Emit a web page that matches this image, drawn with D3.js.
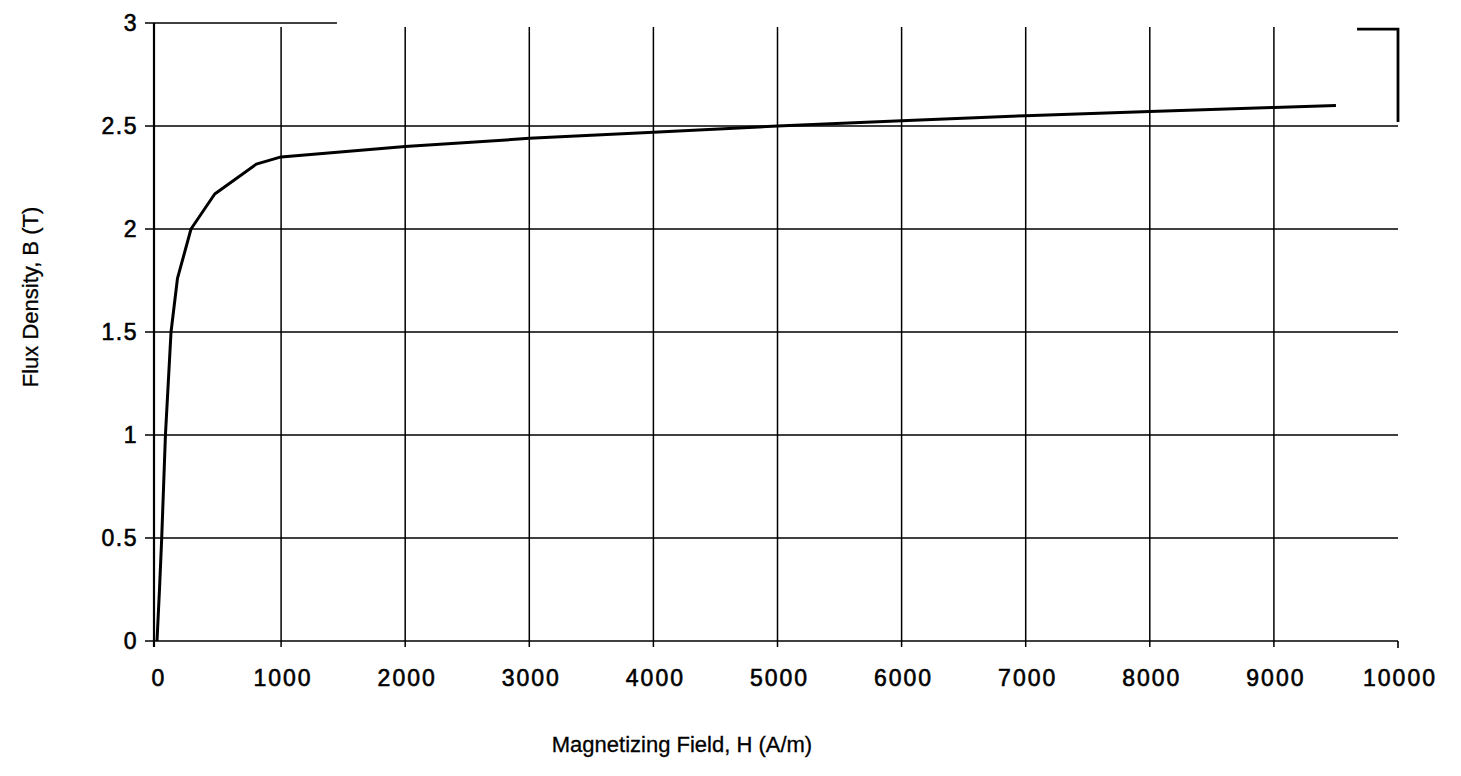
<!DOCTYPE html>
<html>
<head>
<meta charset="utf-8">
<script src="https://cdn.jsdelivr.net/npm/d3@7"></script>
<style>
  body { margin: 0; background: #fff; }
  text { font-family: "Liberation Sans", Arial, sans-serif; fill: #000; }
  .tick-label { stroke: #000; stroke-width: 0.6px; }
  .title { stroke: #000; stroke-width: 0.3px; }
</style>
</head>
<body>
<div id="chart"></div>
<script>
// B-H curve
const fieldH = [0, 20, 38, 68, 113, 165, 274, 465, 800, 1000, 2000, 3000, 4000, 5000, 6000, 7000, 8000, 9000, 9500];
const fluxB = [0, 0.25, 0.5, 1.0, 1.5, 1.76, 2.0, 2.17, 2.315, 2.35, 2.40, 2.44, 2.47, 2.50, 2.525, 2.55, 2.57, 2.59, 2.60];

const xTicks = [0, 1000, 2000, 3000, 4000, 5000, 6000, 7000, 8000, 9000, 10000];
const yTicks = [0, 0.5, 1, 1.5, 2, 2.5, 3];

const width = 1461;
const height = 776;
const margin = { top: 23, right: 63, bottom: 135, left: 157 };

const svg = d3.select('#chart').append('svg')
  .attr('width', width)
  .attr('height', height);

const x = d3.scaleLinear().domain([0, 10000]).range([margin.left, width - margin.right]);
const y = d3.scaleLinear().domain([0, 3]).range([height - margin.bottom, margin.top]);

// horizontal grid lines (top one only drawn part way, as in the scan)
svg.append('g').selectAll('line')
  .data(yTicks.filter(d => d < 3))
  .enter().append('line')
  .attr('x1', x(0) - 12)
  .attr('x2', x(10000))
  .attr('y1', d => y(d))
  .attr('y2', d => y(d))
  .attr('stroke', '#000')
  .attr('stroke-width', 1.6);

svg.append('line')
  .attr('x1', x(0) - 12).attr('x2', x(1450))
  .attr('y1', y(3)).attr('y2', y(3))
  .attr('stroke', '#000').attr('stroke-width', 1.6);

// vertical grid lines
svg.append('g').selectAll('line')
  .data(xTicks.filter(d => d > 0 && d < 10000))
  .enter().append('line')
  .attr('x1', d => x(d))
  .attr('x2', d => x(d))
  .attr('y1', y(2.98))
  .attr('y2', y(0) + 6)
  .attr('stroke', '#000')
  .attr('stroke-width', 1.5);

// y axis line
svg.append('line')
  .attr('x1', x(0) - 3).attr('x2', x(0) - 3)
  .attr('y1', y(3)).attr('y2', y(0) + 6)
  .attr('stroke', '#000').attr('stroke-width', 2.2);

// tick at the right end
svg.append('line')
  .attr('x1', x(10000)).attr('x2', x(10000))
  .attr('y1', y(0)).attr('y2', y(0) + 7)
  .attr('stroke', '#000').attr('stroke-width', 1.6);

// bracket in the top right corner
svg.append('path')
  .attr('d', `M${x(9670)},${y(2.97)} H${x(10000)} V${y(2.52)}`)
  .attr('fill', 'none')
  .attr('stroke', '#000')
  .attr('stroke-width', 2.8);

// tick labels
svg.append('g').selectAll('text')
  .data(yTicks)
  .enter().append('text')
  .attr('class', 'tick-label')
  .attr('x', x(0) - 19)
  .attr('y', d => y(d))
  .attr('dy', '0.36em')
  .attr('text-anchor', 'end')
  .attr('font-size', '23px')
  .attr('letter-spacing', '1.5px')
  .text(d => d);

svg.append('g').selectAll('text')
  .data(xTicks)
  .enter().append('text')
  .attr('class', 'tick-label')
  .attr('x', d => x(d) + 2)
  .attr('y', y(0) + 45)
  .attr('text-anchor', 'middle')
  .attr('font-size', '23px')
  .attr('letter-spacing', '2px')
  .text(d => d);

// axis titles
svg.append('text')
  .attr('class', 'title')
  .attr('x', 682)
  .attr('y', 752)
  .attr('text-anchor', 'middle')
  .attr('font-size', '22px')
  .text('Magnetizing Field, H (A/m)');

svg.append('text')
  .attr('class', 'title')
  .attr('transform', 'translate(38,297) rotate(-90)')
  .attr('text-anchor', 'middle')
  .attr('font-size', '22px')
  .text('Flux Density, B (T)');

// the curve
const line = d3.line()
  .x((d, i) => x(fieldH[i]))
  .y(d => y(d));

svg.append('path')
  .datum(fluxB)
  .attr('d', line)
  .attr('fill', 'none')
  .attr('stroke', '#000')
  .attr('stroke-width', 3)
  .attr('stroke-linejoin', 'round');
</script>
</body>
</html>
